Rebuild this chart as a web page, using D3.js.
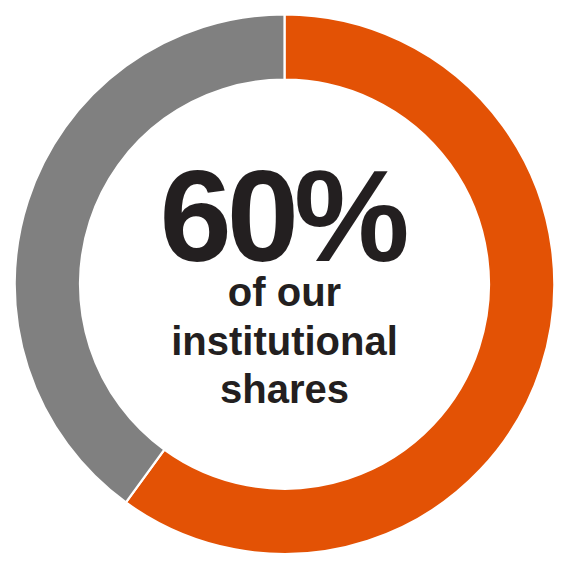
<!DOCTYPE html>
<html><head><meta charset="utf-8">
<script src="https://cdn.jsdelivr.net/npm/d3@7"></script>
<style>html,body{margin:0;padding:0;background:#fff;}svg{display:block;}</style>
</head><body>
<svg id="chart" width="569" height="569"></svg>
<script>
const categories = ["Institutional shares", "Other"];
const values = [60, 40];
const colors = ["#e35205", "#808080"];
const headline = "60%";
const subLines = ["of our", "institutional", "shares"];

const svg = d3.select("#chart");
const cx = 284.5, cy = 284.2;
const outerR = 269.8, innerR = 204.5;

const pie = d3.pie().sort(null).value(d => d)(values);
const arc = d3.arc().innerRadius(innerR).outerRadius(outerR);
const color = d3.scaleOrdinal().domain(categories).range(colors);

const g = svg.append("g").attr("transform", `translate(${cx},${cy})`);
g.selectAll("path").data(pie).join("path")
  .attr("d", arc)
  .attr("fill", (d, i) => color(categories[i]))
  .attr("stroke", "#fff").attr("stroke-width", 2.2);

g.append("text").text(headline)
  .attr("x", -2.5).attr("y", 261 - cy)
  .attr("text-anchor", "middle")
  .attr("font-family", "Liberation Sans, Arial, sans-serif")
  .attr("font-weight", "bold").attr("font-size", 130)
  .attr("letter-spacing", -5)
  .attr("fill", "#231f20");

const baselines = [306, 355.5, 403.5];
g.selectAll("text.sub").data(subLines).join("text").attr("class", "sub")
  .text(d => d)
  .attr("x", 0).attr("y", (d, i) => baselines[i] - cy)
  .attr("text-anchor", "middle")
  .attr("font-family", "Liberation Sans, Arial, sans-serif")
  .attr("font-weight", "bold").attr("font-size", 40)
  .attr("fill", "#231f20");
</script>
</body></html>
